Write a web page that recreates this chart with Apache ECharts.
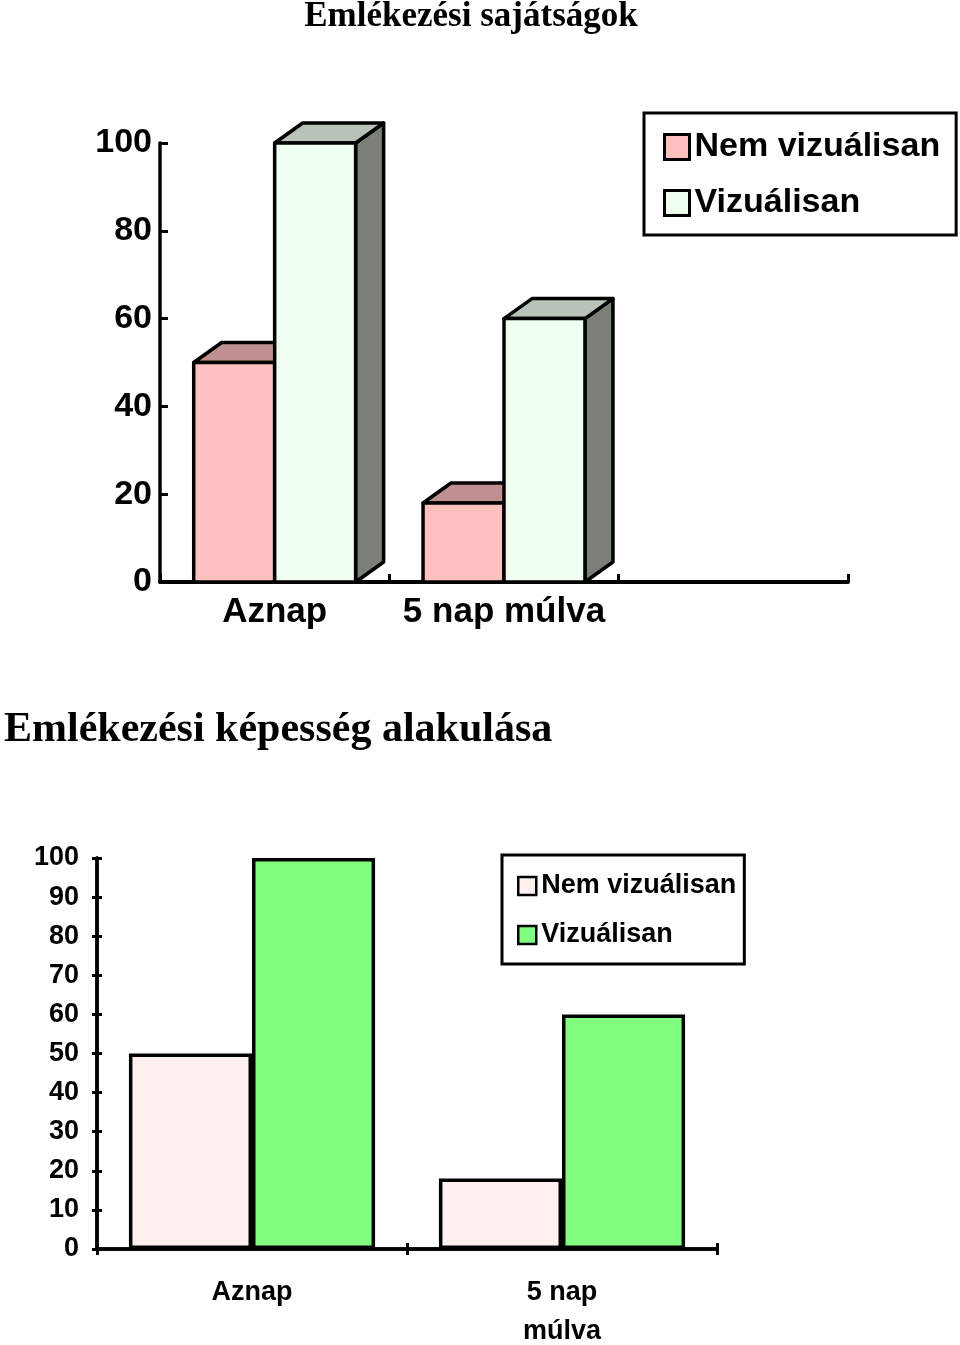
<!DOCTYPE html>
<html>
<head>
<meta charset="utf-8">
<title>Emlékezési sajátságok</title>
<script src="https://cdn.jsdelivr.net/npm/echarts@6/dist/echarts.min.js"></script>
<style>
    html, body { margin: 0; padding: 0; background: #fff; }
    #chart { width: 960px; height: 1345px; }
</style>
</head>
<body>
<div id="chart"></div>
<script>
// adatok
var categories = ['Aznap', '5 nap múlva'];
var categoriesBottom = ['Aznap', '5 nap\nmúlva'];
var nemVizualisan = [50, 18];
var vizualisan = [100, 60];
var topTicks = [0, 20, 40, 60, 80, 100];
var bottomTicks = [0, 10, 20, 30, 40, 50, 60, 70, 80, 90, 100];

var SANS = "'Liberation Sans', Arial, sans-serif";
var NARROW = "'Liberation Sans Narrow', 'Arial Narrow', 'Liberation Sans', sans-serif";
var SERIF = "'Liberation Serif', 'Times New Roman', serif";

var myChart = echarts.init(document.getElementById('chart'));

// 3D oszlop rajzolása (elülső lap, tető, oldal)
var bar3d = function (slot, front, topFace, side) {
    return function (params, api) {
        var cat = api.value(0);
        var val = api.value(1);
        var base = api.coord([cat, 0]);
        var tip = api.coord([cat, val]);
        var bw = api.size([1, 0])[0] * 0.353;
        var x0 = base[0] - bw + slot * bw;
        var ty = tip[1], by = base[1];
        var dx = 28, dy = 20;
        var stroke = { stroke: '#000', lineWidth: 3.5, lineJoin: 'round' };
        return {
            type: 'group',
            children: [
                {
                    type: 'polygon',
                    shape: { points: [[x0 + bw, ty], [x0 + bw + dx, ty - dy], [x0 + bw + dx, by - dy], [x0 + bw, by]] },
                    style: Object.assign({ fill: side }, stroke)
                },
                {
                    type: 'polygon',
                    shape: { points: [[x0, ty], [x0 + bw, ty], [x0 + bw + dx, ty - dy], [x0 + dx, ty - dy]] },
                    style: Object.assign({ fill: topFace }, stroke)
                },
                {
                    type: 'rect',
                    shape: { x: x0, y: ty, width: bw, height: by - ty },
                    style: Object.assign({ fill: front }, stroke)
                }
            ]
        };
    };
};

var toPoints = function (arr) {
    return arr.map(function (v, i) { return [i, v]; });
};

var tickLine = { color: '#000', width: 3 };

var option = {
    backgroundColor: '#fff',
    animation: false,
    title: [
        {
            text: 'Emlékezési sajátságok',
            left: 471,
            textAlign: 'center',
            top: -1,
            padding: 0,
            textStyle: { fontFamily: SERIF, fontWeight: 'bold', fontSize: 35, color: '#000' }
        },
        {
            text: 'Emlékezési képesség alakulása',
            left: 4,
            top: 709,
            padding: 0,
            textStyle: { fontFamily: SERIF, fontWeight: 'bold', fontSize: 42, color: '#000' }
        }
    ],
    legend: [
        {
            orient: 'vertical',
            left: 644,
            top: 113,
            padding: [17, 16, 15, 19],
            borderColor: '#000',
            borderWidth: 3,
            itemWidth: 25,
            itemHeight: 25,
            itemGap: 22,
            icon: 'rect',
            selectedMode: false,
            textStyle: { fontFamily: SANS, fontWeight: 'bold', fontSize: 34, lineHeight: 34, color: '#000' },
            data: [
                { name: 'Nem vizuálisan', itemStyle: { color: '#ffc0c0', borderColor: '#000', borderWidth: 3 } },
                { name: 'Vizuálisan', itemStyle: { color: '#f0fff0', borderColor: '#000', borderWidth: 3 } }
            ]
        },
        {
            orient: 'vertical',
            left: 502,
            top: 855,
            padding: [16, 8, 14, 15],
            borderColor: '#000',
            borderWidth: 3,
            itemWidth: 18,
            itemHeight: 18,
            itemGap: 19,
            icon: 'rect',
            selectedMode: false,
            textStyle: { fontFamily: NARROW, fontWeight: 'bold', fontSize: 27, lineHeight: 30, color: '#000' },
            data: [
                { name: 'Nem vizuálisan', itemStyle: { color: '#fff0f0', borderColor: '#000', borderWidth: 2.5 } },
                { name: 'Vizuálisan', itemStyle: { color: '#80ff80', borderColor: '#000', borderWidth: 2.5 } }
            ]
        }
    ],
    grid: [
        { left: 160, right: 112, top: 143, bottom: 763, containLabel: false, outerBoundsMode: 'none' },
        { left: 97, right: 243, top: 858, bottom: 96, containLabel: false, outerBoundsMode: 'none' }
    ],
    xAxis: [
        {
            type: 'category',
            gridIndex: 0,
            data: categories.concat(['']),
            axisLine: { show: true, lineStyle: { color: '#000', width: 4 } },
            axisTick: { show: true, inside: true, interval: 0, length: 8, lineStyle: tickLine },
            axisLabel: { interval: 0, fontFamily: SANS, fontWeight: 'bold', fontSize: 35, lineHeight: 34, color: '#000', margin: 13 }
        },
        {
            type: 'category',
            gridIndex: 1,
            position: 'bottom',
            data: categoriesBottom,
            axisLine: { show: true, lineStyle: { color: '#000', width: 3.5 } },
            axisTick: { show: true, interval: 0, length: 6, lineStyle: tickLine },
            axisLabel: { interval: 0, fontFamily: NARROW, fontWeight: 'bold', fontSize: 27, lineHeight: 39, color: '#000', margin: 24 }
        },
        {
            // befelé mutató osztásvonalak az alsó diagramon
            type: 'category',
            gridIndex: 1,
            position: 'bottom',
            data: categoriesBottom,
            axisLine: { show: true, lineStyle: { color: '#000', width: 3.5 } },
            axisTick: { show: true, inside: true, interval: 0, length: 6, lineStyle: tickLine },
            axisLabel: { show: false }
        }
    ],
    yAxis: [
        {
            type: 'value',
            gridIndex: 0,
            min: 0,
            max: 100,
            interval: 20,
            splitLine: { show: false },
            axisLine: { show: true, lineStyle: { color: '#000', width: 3.5 } },
            axisTick: { show: true, inside: true, length: 8, lineStyle: tickLine },
            axisLabel: {
                fontFamily: SANS, fontWeight: 'bold', fontSize: 34, color: '#000', margin: 8,
                formatter: function (v) { return topTicks.indexOf(v) >= 0 ? String(v) : ''; }
            }
        },
        {
            type: 'value',
            gridIndex: 1,
            position: 'left',
            min: 0,
            max: 100,
            interval: 10,
            splitLine: { show: false },
            axisLine: { show: true, lineStyle: { color: '#000', width: 3.5 } },
            axisTick: { show: true, length: 5, lineStyle: tickLine },
            axisLabel: {
                fontFamily: NARROW, fontWeight: 'bold', fontSize: 27, color: '#000', margin: 18,
                formatter: function (v) { return bottomTicks.indexOf(v) >= 0 ? String(v) : ''; }
            }
        },
        {
            type: 'value',
            gridIndex: 1,
            position: 'left',
            offset: 0,
            min: 0,
            max: 100,
            interval: 10,
            splitLine: { show: false },
            axisLine: { show: true, lineStyle: { color: '#000', width: 3.5 } },
            axisTick: { show: true, inside: true, length: 5, lineStyle: tickLine },
            axisLabel: { show: false }
        }
    ],
    series: [
        {
            name: 'Nem vizuálisan',
            type: 'custom',
            xAxisIndex: 0,
            yAxisIndex: 0,
            z: 2,
            renderItem: bar3d(0, '#ffc0c0', '#c09090', '#a07070'),
            encode: { x: 0, y: 1 },
            itemStyle: { color: '#ffc0c0' },
            data: toPoints(nemVizualisan)
        },
        {
            name: 'Vizuálisan',
            type: 'custom',
            xAxisIndex: 0,
            yAxisIndex: 0,
            z: 3,
            renderItem: bar3d(1, '#f0fff0', '#b8c2b8', '#7a8078'),
            encode: { x: 0, y: 1 },
            itemStyle: { color: '#f0fff0' },
            data: toPoints(vizualisan)
        },
        {
            name: 'Nem vizuálisan',
            type: 'bar',
            xAxisIndex: 1,
            yAxisIndex: 1,
            barWidth: '39.7%',
            barGap: '0%',
            itemStyle: { color: '#fff0f0', borderColor: '#000', borderWidth: 3.5 },
            data: nemVizualisan
        },
        {
            name: 'Vizuálisan',
            type: 'bar',
            xAxisIndex: 1,
            yAxisIndex: 1,
            barWidth: '39.7%',
            barGap: '0%',
            itemStyle: { color: '#80ff80', borderColor: '#000', borderWidth: 3.5 },
            data: vizualisan
        }
    ]
};

myChart.setOption(option);
window.addEventListener('resize', function () { myChart.resize(); });
</script>
</body>
</html>
